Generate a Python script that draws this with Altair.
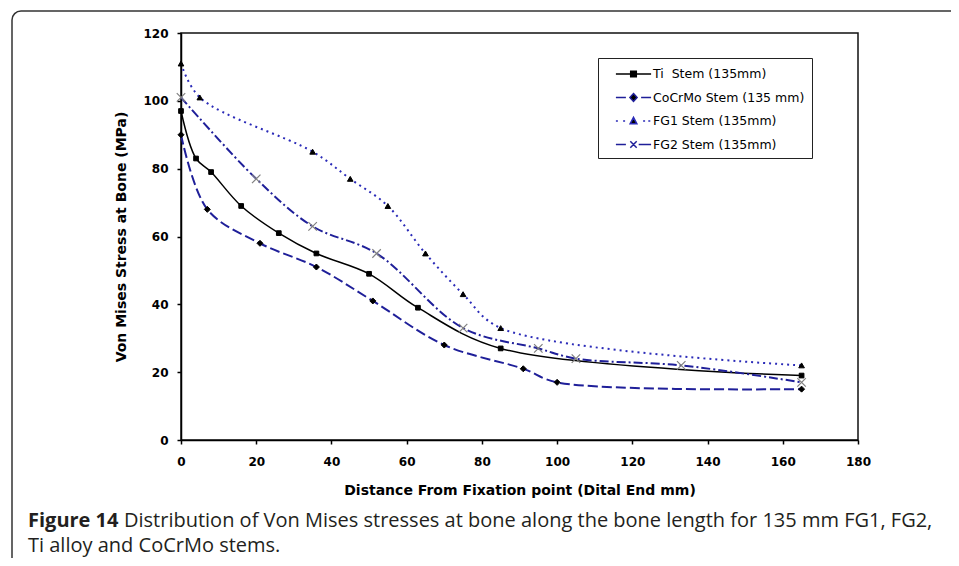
import altair as alt
import pandas as pd

# ---------------- data ----------------
series_keys = ["ti", "cocrmo", "fg1", "fg2"]
series_labels = ["Ti\u00a0 Stem (135mm)", "CoCrMo Stem (135 mm)", "FG1 Stem (135mm)", "FG2 Stem (135mm)"]

ti_distance = [0, 4, 8, 16, 26, 36, 50, 63, 85, 165]
ti_stress = [97, 83, 79, 69, 61, 55, 49, 39, 27, 19]

cocrmo_distance = [0, 7, 21, 36, 51, 70, 91, 100, 165]
cocrmo_stress = [90, 68, 58, 51, 41, 28, 21, 17, 15]

fg1_distance = [0, 5, 35, 45, 55, 65, 75, 85, 165]
fg1_stress = [111, 101, 85, 77, 69, 55, 43, 33, 22]

fg2_distance = [0, 20, 35, 52, 75, 95, 105, 133, 165]
fg2_stress = [101, 77, 63, 55, 33, 27, 24, 22, 17]

x_ticks = [0, 20, 40, 60, 80, 100, 120, 140, 160, 180]
y_ticks = [0, 20, 40, 60, 80, 100, 120]

x_title = "Distance From Fixation point (Dital End mm)"
y_title = "Von Mises Stress at Bone (MPa)"
caption_bold = "Figure 14"
caption_line1 = "Distribution of Von Mises stresses at bone along the bone length for 135 mm FG1, FG2,"
caption_line2 = "Ti alloy and CoCrMo stems."

# ---------------- build table ----------------
rows = []
for key, label, xs, ys in [
    ("ti", series_labels[0], ti_distance, ti_stress),
    ("cocrmo", series_labels[1], cocrmo_distance, cocrmo_stress),
    ("fg1", series_labels[2], fg1_distance, fg1_stress),
    ("fg2", series_labels[3], fg2_distance, fg2_stress),
]:
    for i, (xv, yv) in enumerate(zip(xs, ys)):
        rows.append({"key": key, "series": label, "distance": xv, "stress": yv, "order": i})
df = pd.DataFrame(rows)
one = pd.DataFrame({"a": [1]})

NAVY = "#1f1f99"
BLUE = "#2b2bb8"

line_style = {
    "ti": dict(color="black", strokeWidth=1.5),
    "cocrmo": dict(color=NAVY, strokeWidth=2, strokeDash=[10, 4]),
    "fg1": dict(color=BLUE, strokeWidth=2, strokeDash=[2, 4]),
    "fg2": dict(color=NAVY, strokeWidth=2, strokeDash=[9, 3, 2, 3]),
}
X_PATH = "M-1,-1L1,1M-1,1L1,-1"
point_style = {
    "ti": dict(shape="square", size=22, fill="black", stroke="black", strokeWidth=1),
    "cocrmo": dict(shape="diamond", size=36, fill="black", stroke="black", strokeWidth=1),
    "fg1": dict(shape="triangle-up", size=32, fill="black", stroke="black", strokeWidth=1),
    "fg2": dict(shape=X_PATH, size=72, fill="transparent", stroke="#808080", strokeWidth=1.2),
}

xscale = alt.Scale(domain=[0, 180], nice=False, zero=False)
yscale = alt.Scale(domain=[0, 120], nice=False)
xaxis = alt.Axis(values=x_ticks, title=x_title, labelPadding=12, titlePadding=16)
yaxis = alt.Axis(values=y_ticks, title=y_title, labelPadding=9, titlePadding=14)

enc = dict(
    x=alt.X("distance:Q", scale=xscale, axis=xaxis),
    y=alt.Y("stress:Q", scale=yscale, axis=yaxis),
    order=alt.Order("order:Q"),
)

layers = []

# outer figure frame (decoration)
frame = alt.Chart(one).mark_rect(
    fillOpacity=0, stroke="#333333", strokeWidth=1.5, cornerRadius=9
).encode(x=alt.value(-169), x2=alt.value(900), y=alt.value(-22), y2=alt.value(700))
layers.append(frame)

for key in series_keys:
    base = alt.Chart(df).transform_filter(alt.datum.key == key)
    layers.append(base.mark_line(interpolate="catmull-rom", **line_style[key]).encode(**enc))
for key in series_keys:
    base = alt.Chart(df).transform_filter(alt.datum.key == key)
    layers.append(base.mark_point(opacity=1, **point_style[key]).encode(
        x=alt.X("distance:Q", scale=xscale, axis=xaxis),
        y=alt.Y("stress:Q", scale=yscale, axis=yaxis)))

# legend-only layer (invisible marks, real legend)
legend_paths = [
    "M-2.2,0H2.2M-0.35,-0.35H0.35V0.35H-0.35Z",
    "M-2.2,0H-0.95M0.95,0H2.2M0,-0.5L0.45,0L0,0.5L-0.45,0Z",
    "M-2.2,0H-1.95M-1.3,0H-1.05M1.2,0H1.45M1.85,0H2.1M0,-0.45L0.42,0.35L-0.42,0.35Z",
    "M-2.2,0H-0.95M0.65,0H2.2M-0.4,-0.4L0.4,0.4M-0.4,0.4L0.4,-0.4",
]
legend_strokes = ["black", NAVY, BLUE, NAVY]
leg = alt.Legend(
    title=None, orient="none", legendX=417, legendY=25,
    strokeColor="#222222", fillColor="white", padding=7,
    symbolSize=256, symbolStrokeWidth=1.5, symbolOpacity=1,
    symbolOffset=19.5, labelOffset=10.5, rowPadding=7.5,
    labelFont="DejaVu Sans", labelFontSize=12.5, labelColor="black", labelLimit=400,
)
legend_layer = alt.Chart(df).mark_point(opacity=0, fill="black", strokeWidth=1.5).encode(
    x=alt.X("distance:Q", scale=xscale, axis=xaxis),
    y=alt.Y("stress:Q", scale=yscale, axis=yaxis),
    stroke=alt.Stroke("series:N", scale=alt.Scale(domain=series_labels, range=legend_strokes), legend=leg),
    shape=alt.Shape("series:N", scale=alt.Scale(domain=series_labels, range=legend_paths), legend=leg),
)
layers.append(legend_layer)

# caption (real text)
cap_font = "Open Sans"
cap_color = "#231f20"
cap_size = 20
layers.append(alt.Chart(one).mark_text(
    text=caption_bold, align="left", baseline="alphabetic", font=cap_font,
    fontSize=cap_size, fontWeight="bold", color=cap_color
).encode(x=alt.value(28 - 181), y=alt.value(527 - 33)))
layers.append(alt.Chart(one).mark_text(
    text=caption_line1, align="left", baseline="alphabetic", font=cap_font,
    fontSize=cap_size, color=cap_color
).encode(x=alt.value(124 - 181), y=alt.value(527 - 33)))
layers.append(alt.Chart(one).mark_text(
    text=caption_line2, align="left", baseline="alphabetic", font=cap_font,
    fontSize=cap_size, color=cap_color
).encode(x=alt.value(28 - 181), y=alt.value(552 - 33)))

chart = alt.layer(*layers).properties(
    width=677, height=407,
    autosize=alt.AutoSizeParams(type="none"),
    padding={"left": 173, "top": 25, "right": 93, "bottom": 118},
).configure_view(
    stroke="#111111", strokeWidth=1.5
).configure_axis(
    grid=False, domainColor="black", domainWidth=1.5, tickColor="black", tickWidth=1.5,
    tickSize=4, labelFont="DejaVu Sans", labelFontWeight="bold", labelFontSize=12,
    labelColor="black", titleFont="DejaVu Sans", titleFontWeight="bold", titleFontSize=14,
    titleColor="black", labelFlush=False,
)

chart.save("out.html", embed_options={"renderer": "svg", "actions": False})
